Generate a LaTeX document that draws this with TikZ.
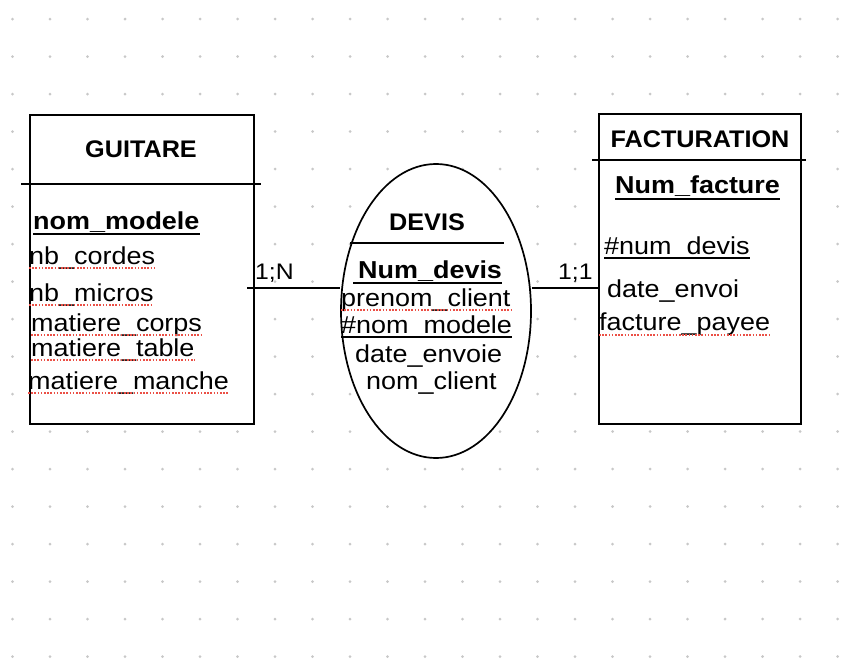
\documentclass[tikz,border=0pt]{standalone}
\usepackage{fontspec}
\setmainfont{Liberation Sans}[FakeStretch=1.1]
\newfontfamily\ttlfont{Liberation Sans}[FakeStretch=1.05]
\usetikzlibrary{shapes.geometric}
\definecolor{dotc}{RGB}{200,200,200}
\definecolor{spell}{RGB}{235,80,70}
\tikzset{
  ent/.style={draw, fill=white, line width=1.7pt, inner sep=0pt, anchor=north west},
  rel/.style={ellipse, draw, fill=white, line width=1.7pt, inner sep=0pt},
  conn/.style={line width=1.7pt},
  sep/.style={line width=1.7pt},
  txt/.style={inner sep=0pt, anchor=base west, font=\fontsize{24.5}{29}\selectfont},
  keytxt/.style={inner sep=0pt, anchor=base west, font=\fontsize{24.5}{29}\selectfont\bfseries},
  ttl/.style={inner sep=0pt, anchor=base, font=\ttlfont\fontsize{24}{29}\selectfont\bfseries},
  lbl/.style={inner sep=0pt, anchor=base west, font=\fontsize{22.5}{27}\selectfont},
  uline/.style={line width=2.2pt},
  spellline/.style={draw=spell, line width=1.5pt, dash pattern=on 1.6pt off 1.6pt}
}
\begin{document}
\begin{tikzpicture}[x=1pt, y=-1pt]
\useasboundingbox (0,0) rectangle (868,664);
% dot grid
\foreach \i in {0,...,22}{
  \foreach \j in {0,...,17}{
    \fill[dotc] (12.5+37.5*\i, 19+37.5*\j) circle (1.5);
  }
}
% entities and relation
\node[ent, minimum width=224pt, minimum height=309pt] (guitare) at (29,114) {};
\node[ent, minimum width=202pt, minimum height=310pt] (factu) at (598,113) {};
\node[rel, minimum width=190pt, minimum height=294pt] (devis) at (436,311) {};
% header separators
\draw[sep] (21,184) -- (261,184);
\draw[sep] (592,160) -- (806,160);
\draw[sep] (350,243) -- (504,243);
% connectors
\coordinate (gl) at (247,288);
\coordinate (fr) at (598,288);
\draw[conn] (gl) -- (gl -| devis.west);
\draw[conn] (devis.east |- fr) -- (fr);
\node[lbl] (card1) at (255,279) {1;N};
\node[lbl] (card2) at (558,279) {1;1};
% GUITARE
\node[ttl] (tg) at (141,157) {GUITARE};
\node[keytxt] (g1) at (33,229) {nom\_modele};
\draw[uline] ([yshift=-5pt]g1.base west) -- ([yshift=-5pt]g1.base east);
\node[txt] (g2) at (29,264) {nb\_cordes};
\node[txt] (g3) at (29,301) {nb\_micros};
\node[txt] (g4) at (31,331) {matiere\_corps};
\node[txt] (g5) at (31,356) {matiere\_table};
\node[txt] (g6) at (28,389) {matiere\_manche};
\foreach \n in {g2,g3,g4,g5,g6}{
  \draw[spellline] ([yshift=-4pt]\n.base west) -- ([yshift=-4pt]\n.base east);
}
% DEVIS
\node[ttl] (td) at (427,230) {DEVIS};
\node[keytxt] (d1) at (358,278) {Num\_devis};
\draw[uline] ([xshift=-5pt,yshift=-5pt]d1.base west) -- ([yshift=-5pt]d1.base east);
\node[txt] (d2) at (341,306) {prenom\_client};
\draw[spellline] ([yshift=-4pt]d2.base west) -- ([yshift=-4pt]d2.base east);
\node[txt] (d3) at (341,333) {\#nom\_modele};
\draw[line width=1.7pt] ([yshift=-4pt]d3.base west) -- ([yshift=-4pt]d3.base east);
\node[txt] (d4) at (355,362) {date\_envoie};
\node[txt] (d5) at (366,389) {nom\_client};
% FACTURATION
\node[ttl] (tf) at (700,147) {FACTURATION};
\node[keytxt] (f1) at (615,193) {Num\_facture};
\draw[uline] ([yshift=-6pt]f1.base west) -- ([yshift=-6pt]f1.base east);
\node[txt] (f2) at (604,254) {\#num\_devis};
\draw[line width=1.7pt] ([yshift=-4pt]f2.base west) -- ([yshift=-4pt]f2.base east);
\node[txt] (f3) at (607,297) {date\_envoi};
\node[txt] (f4) at (599,330) {facture\_payee};
\draw[spellline] ([yshift=-5pt]f4.base west) -- ([yshift=-5pt]f4.base east);
\end{tikzpicture}
\end{document}
